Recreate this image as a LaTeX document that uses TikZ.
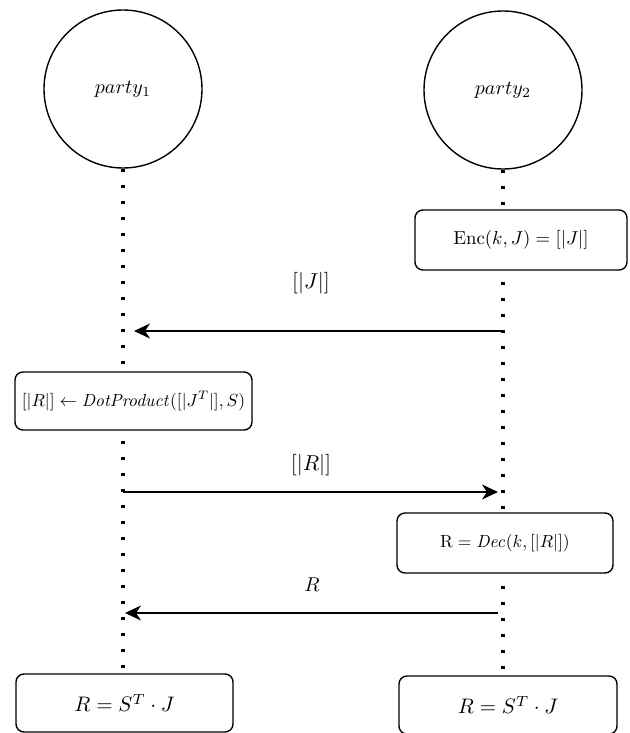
\documentclass[tikz,border=0pt]{standalone}
\usepackage{graphicx}
\usetikzlibrary{arrows.meta}
\newcommand{\btxt}[2][1.75]{\scalebox{#1}{#2}}
\newcommand{\ltxt}[2][2.15]{\scalebox{#1}{#2}}
\begin{document}
\begin{tikzpicture}[x=1pt,y=-1pt,
  party/.style={circle,draw,line width=1.4pt,minimum size=158pt,inner sep=0pt},
  stepbox/.style={rectangle,rounded corners=8pt,draw,fill=white,line width=1.4pt,inner sep=0pt},
  lifeline/.style={line width=3.2pt,dash pattern=on 3.2pt off 12.8pt},
  msg/.style={line width=1.5pt,-{Stealth[length=16pt,width=15pt,inset=5pt]}},
  msglabel/.style={inner sep=0pt}
]
\useasboundingbox (0,0) rectangle (629,733);
% parties
\node[party] (p1) at (123,89) {\ltxt[2.0]{$party_1$}};
\node[party] (p2) at (503,90) {\ltxt[2.0]{$party_2$}};
% boxes positions
\coordinate (b1top) at (123,674);
\coordinate (b2top) at (503,676);
% lifelines
\draw[lifeline] (p1.south) -- (b1top);
\draw[lifeline] (p2.south) -- (b2top);
% boxes
\node[stepbox,minimum width=212pt,minimum height=60pt] (enc) at (521,240) {\btxt[1.88]{$\mathrm{Enc}(k,J)=[|J|]$}};
\node[stepbox,minimum width=237pt,minimum height=58pt] (dot) at (133.5,401) {\btxt{$[|R|]\leftarrow \mathit{DotProduct}([|J^T|],S)$}};
\node[stepbox,minimum width=216pt,minimum height=60pt] (dec) at (505,543) {\btxt{$\mathrm{R}=\mathit{Dec}(k,[|R|])$}};
\node[stepbox,minimum width=217pt,minimum height=58pt] (b1) at (124.5,703) {\btxt[2.1]{$R=S^T\cdot J$}};
\node[stepbox,minimum width=218pt,minimum height=58pt] (b2) at (508,705) {\btxt[2.1]{$R=S^T\cdot J$}};
% message anchors on lifelines
\coordinate (j2) at (503,331);
\coordinate (j1) at (123,331);
\coordinate (r1) at (123,492);
\coordinate (r2) at (503,492);
\coordinate (s2) at (503,613);
\coordinate (s1) at (123,613);
% messages
\draw[msg,shorten >=11pt] (j2) -- (j1);
\draw[msg,shorten >=5pt] (r1) -- (r2);
\draw[msg,shorten <=5pt,shorten >=2pt] (s2) -- (s1);
% labels
\node[msglabel] (lj) at (311,283) {\ltxt{$[|J|]$}};
\node[msglabel] (lr) at (311,465) {\ltxt{$[|R|]$}};
\node[msglabel] (ls) at (312,585) {\ltxt[2.0]{$R$}};
\end{tikzpicture}
\end{document}
